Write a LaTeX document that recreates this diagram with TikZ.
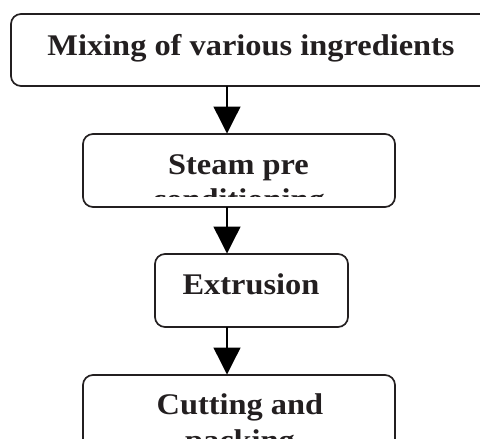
\documentclass[tikz,border=0pt]{standalone}
\usepackage{fontspec}
\setmainfont{Liberation Serif}[FakeStretch=1.08]
\usetikzlibrary{arrows.meta}
\definecolor{ink}{HTML}{231F20}
\tikzset{
  box/.style={draw=ink, line width=1.7pt, rounded corners=10pt, fill=none},
  lbl/.style={anchor=base, inner sep=0pt, text=ink, font=\fontsize{30}{33}\selectfont\bfseries},
  arr/.style={draw=black, line width=1.4pt, -{Triangle[width=27pt,length=27pt]}, shorten >=0.5pt}
}
\begin{document}
\begin{tikzpicture}[x=1pt,y=-1pt]
\useasboundingbox (0,0) rectangle (480,439);
\clip (0,0) rectangle (480,439);
% boxes
\draw[box] (11,14) rectangle (491,86);
\coordinate (b1n) at (251,14); \coordinate (b1s) at (251,86);
\draw[box] (83,134) rectangle (395,207);
\coordinate (b2n) at (239,134); \coordinate (b2s) at (239,207);
\draw[box] (155,254) rectangle (348,327);
\coordinate (b3n) at (251,254); \coordinate (b3s) at (251,327);
\draw[box] (83,375) rectangle (395,470);
\coordinate (b4n) at (239,375);
% labels
\node[lbl] (t1) at (251,55) {Mixing of various ingredients};
\node[lbl] (t2a) at (238.5,174) {Steam pre};
\begin{scope}
  \clip (83,134) rectangle (395,196);
  \node[lbl] (t2b) at (238.5,209) {conditioning};
\end{scope}
\node[lbl] (t3) at (251,294) {Extrusion};
\node[lbl] (t4a) at (240,414) {Cutting and};
\node[lbl] (t4b) at (240,450) {packing};
% connectors
\coordinate (ax) at (227,0);
\draw[arr] (ax |- b1s) -- (ax |- b2n);
\draw[arr] (ax |- b2s) -- (ax |- b3n);
\draw[arr] (ax |- b3s) -- (ax |- b4n);
\end{tikzpicture}
\end{document}
